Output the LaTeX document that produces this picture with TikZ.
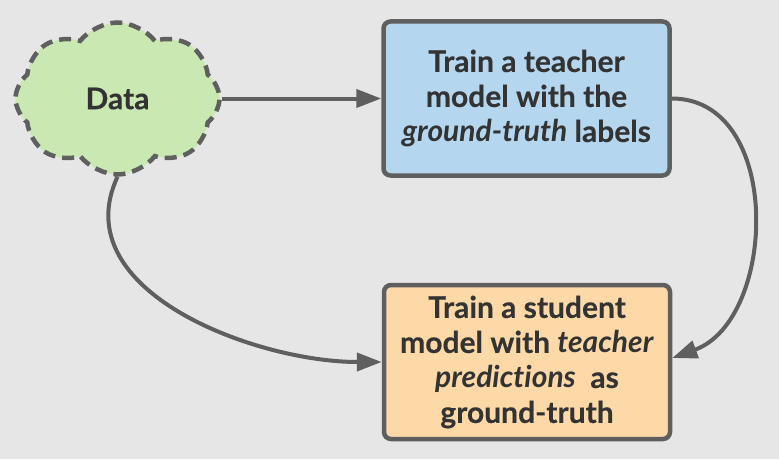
\documentclass[tikz,border=0pt]{standalone}
\usepackage{fontspec}
\setmainfont{Lato}[Ligatures=NoCommon,BoldFeatures={FakeBold=0.3}]
\usetikzlibrary{shapes.symbols,arrows.meta}
\definecolor{bg}{RGB}{230,230,230}
\definecolor{cloudgreen}{RGB}{202,233,178}
\definecolor{teacherblue}{RGB}{180,214,239}
\definecolor{studentorange}{RGB}{253,217,168}
\definecolor{edge}{RGB}{95,95,95}
\definecolor{ink}{RGB}{51,51,51}

\begin{document}
\begin{tikzpicture}[x=1pt,y=1pt,
                label font/.style={text=ink,font=\bfseries\fontsize{30}{35}\selectfont},
                box/.style={label font,draw=edge,line width=4.5pt,rounded corners=7pt,
                    minimum width=286pt,minimum height=154pt,align=center,inner sep=0pt},
                link/.style={draw=edge,line width=4pt,-{Triangle[length=25pt,width=18pt]}}]
                % Background
                \useasboundingbox (0,0) rectangle (779,459);
                \fill[bg] (0,0) rectangle (779,459);
                
                % Data cloud
                \node[cloud,cloud puffs=8,cloud puff arc=105,aspect=1.33,
                    draw=edge,dash pattern=on 12pt off 7pt,line width=4.5pt,fill=cloudgreen,
                    minimum width=204pt,minimum height=152pt,inner sep=0pt,label font]
                    (data) at (117.5,360.5) {Data};
                
                % Teacher
                \node[box,fill=teacherblue] (teacher) at (526.5,360.5)
                    {Train a teacher\\model with the\\\textit{ground-truth} labels};
                
                % Student
                \node[box,fill=studentorange] (student) at (527,97)
                    {Train a student\\model with \textit{teacher}\\\textit{predictions}\ \ as\\ground-truth};
                
                % Arrows
                \draw[link] (data.east) -- (teacher.west);
                \draw[link] (teacher.east) to[out=0,in=20,looseness=1.1] ([yshift=4pt]student.east);
                \draw[link] (data.south) to[out=-115,in=180] (student.west);
            \end{tikzpicture}
\end{document}
